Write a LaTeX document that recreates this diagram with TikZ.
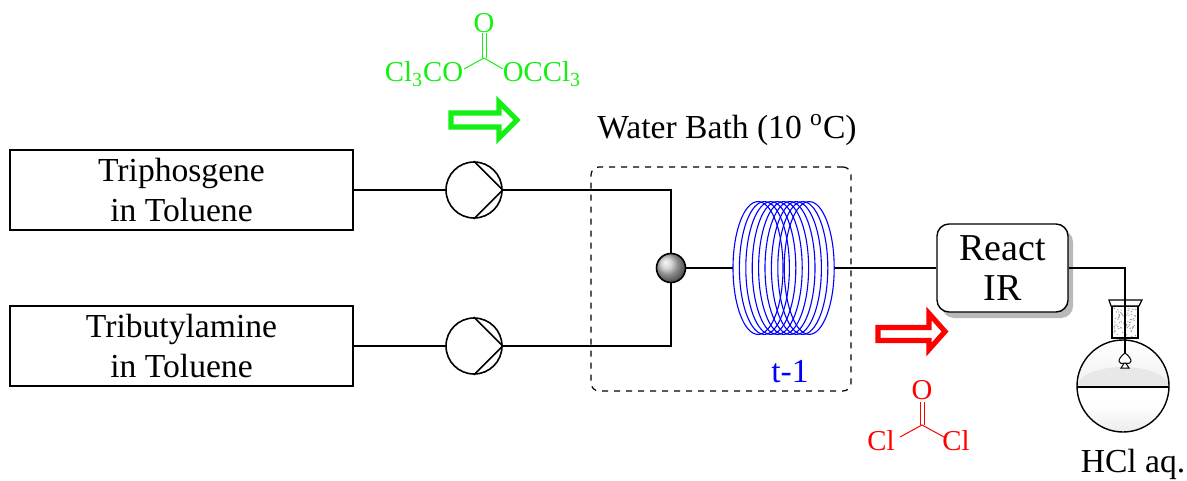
\documentclass[tikz,border=0pt]{standalone}
\usepackage{fontspec}
\setmainfont{LiberationSerif}[Extension=.ttf, UprightFont=*-Regular, BoldFont=*-Bold]
\usetikzlibrary{shadows}
\definecolor{tpggreen}{RGB}{20,240,20}
\tikzset{
  feed/.style={draw, line width=0.7pt, minimum width=171.5pt, minimum height=40pt, align=center, inner sep=0pt},
  pump/.style={draw, circle, minimum size=28pt, inner sep=0pt},
  mixer/.style={draw, circle, shading=ball, ball color=gray!45, minimum size=14.5pt, inner sep=0pt},
  coilbox/.style={inner sep=0pt, minimum width=50.5pt, minimum height=66.5pt},
  bath/.style={draw, dashed, line width=0.6pt, rounded corners=4pt, minimum width=130pt, minimum height=112pt},
  irbox/.style={draw, fill=white, line width=0.7pt, rounded corners=6pt, align=center, minimum width=65.5pt, minimum height=44pt,
    font=\fontsize{19}{20}\selectfont, drop shadow={shadow xshift=2.5pt, shadow yshift=-3pt, fill=gray!55, opacity=1}},
  chem/.style={inner sep=0pt, font=\fontsize{14.4}{16}\selectfont},
  bond/.style={line width=0.5pt}
}
\begin{document}
\begin{tikzpicture}[x=0.5pt,y=-0.5pt, line width=0.8pt, font=\fontsize{16.8}{20}\selectfont]
  \useasboundingbox (0,0) rectangle (1187,481);

  \node[feed] (tpg) at (181.5,190) {Triphosgene\\in Toluene};
  \node[feed] (tba) at (181.5,346) {Tributylamine\\in Toluene};

  \node[pump] (pump1) at (474,190) {};
  \node[pump] (pump2) at (474,346) {};
  \draw (pump1.north) -- (pump1.east) -- (pump1.south);
  \draw (pump2.north) -- (pump2.east) -- (pump2.south);

  \node[bath] (bath) at (721,279) {};
  \node (bathlabel) at (727,130) {Water Bath (10 \textsuperscript{o}C)};

  \node[mixer] (mix) at (671,268) {};
  \node[coilbox] (coil) at (784,268) {};
  \foreach \i in {0,...,8}
    \draw[blue, line width=0.55pt] (758+\i*6.4,268) ellipse [x radius=12.5pt, y radius=33.2pt];
  \node[blue] (t1) at (790,372) {t-1};

  \draw (tpg.east) -- (pump1.west);
  \draw (tba.east) -- (pump2.west);
  \draw (pump1.east) -| (mix.north);
  \draw (pump2.east) -| (mix.south);
  \draw (mix.east) -- (coil.west);

  \node[irbox] (ir) at (1002.5,268) {React\\IR};
  \draw (coil.east) -- (ir.west);

  % flask
  \begin{scope}
    \clip (1123,386) circle [radius=23pt];
    \shade[top color=white, bottom color=gray!12] (1077,340) rectangle (1170,387);
    \fill[gray!18] (1123,387) ellipse [x radius=23pt, y radius=10pt];
    \fill[white] (1077,387) rectangle (1170,432);
    \shade[top color=white, bottom color=gray!15] (1077,405) rectangle (1170,432);
  \end{scope}
  \draw[line width=0.6pt] (1077,387) -- (1169,387);
  \draw[line width=0.7pt] (1123,386) circle [radius=23pt];
  \fill[white] (1112,306) rectangle (1138,338);
  \pgfmathsetseed{11}
  \foreach \k in {1,...,70}
    \fill[gray!80] ({1114+22*rnd},{308+29*rnd}) circle [radius=0.35pt];
  \draw[line width=0.6pt] (1112,306) rectangle (1138,338);
  \draw[line width=0.6pt, fill=white] (1109,300) -- (1142,300) -- (1139,306) -- (1111,306) -- cycle;
  \coordinate (dip) at (1125,353);
  \draw (ir.east) -| (dip);
  \draw[line width=0.5pt, fill=white] (1121,368) -- (1125,362) -- (1129,368) -- cycle;
  \draw[line width=0.5pt, fill=white] (dip) .. controls (1117,359) and (1117,365) .. (1125,363)
    .. controls (1133,365) and (1133,359) .. (dip);
  \node (hcl) at (1133,464) {HCl aq.};

  % triphosgene
  \begin{scope}[tpggreen]
    \node[chem] (cl3co) at (424,74) {Cl\textsubscript{3}CO};
    \node[chem] (occl3) at (542,74) {OCCl\textsubscript{3}};
    \node[chem] (tpgo) at (484,23) {O};
    \coordinate (tpgc) at (484,58);
    \draw[bond] (464,69) -- (tpgc) -- (503,69);
    \draw[bond] (482,33) -- (482,58);
    \draw[bond] (486,33) -- (486,58);
    \draw[line width=2.6pt] (451,113) -- (499,113) -- (499,102) -- (517,120) -- (499,138)
      -- (499,127) -- (451,127) -- cycle;
  \end{scope}

  % phosgene
  \begin{scope}[red]
    \node[chem] (phgo) at (922,390) {O};
    \coordinate (phgc) at (922,425);
    \node[chem] (phgcl1) at (881,441) {Cl};
    \node[chem] (phgcl2) at (956,441) {Cl};
    \draw[bond] (900,437) -- (phgc) -- (944,437);
    \draw[bond] (920,402) -- (920,425);
    \draw[bond] (924,402) -- (924,425);
    \draw[line width=2.6pt] (878,327.5) -- (929,327.5) -- (929,313.5) -- (945,331.5) -- (929,349.5)
      -- (929,340.5) -- (878,340.5) -- cycle;
  \end{scope}
\end{tikzpicture}
\end{document}
